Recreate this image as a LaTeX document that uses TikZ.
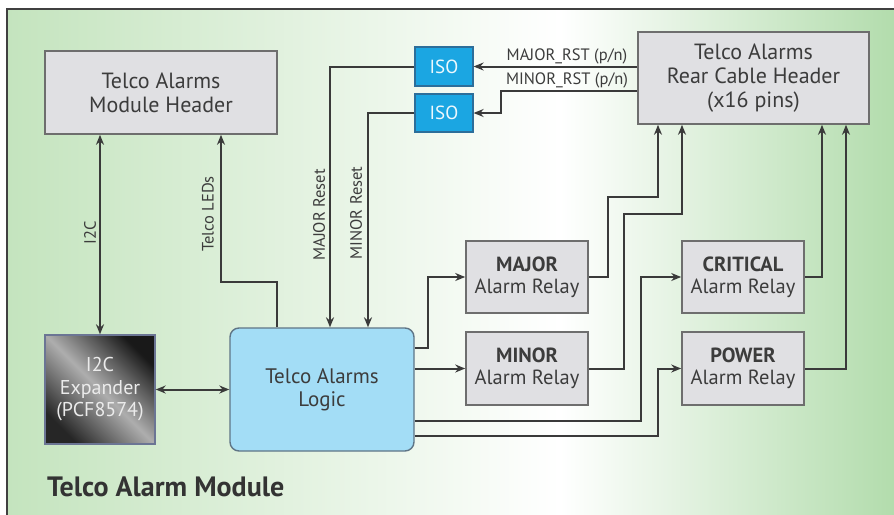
\documentclass[tikz,border=0pt]{standalone}
\usepackage{fontspec}
\setmainfont{PT Sans}
\usetikzlibrary{arrows.meta,calc}
\definecolor{bggreen}{HTML}{C4E4BE}
\definecolor{bggreenR}{HTML}{B2DCAC}
\definecolor{boxfill}{HTML}{E0E0E3}
\definecolor{boxline}{HTML}{6E6E6E}
\definecolor{wire}{HTML}{3A3A3A}
\definecolor{txt}{HTML}{3C3C3C}
\definecolor{isofill}{HTML}{1BA6E2}
\definecolor{isoline}{HTML}{2C6E9A}
\definecolor{logicfill}{HTML}{A3DDF6}
\definecolor{logicline}{HTML}{5F7586}
\definecolor{expline}{HTML}{6B7594}
\tikzset{
  graybox/.style={draw=boxline, fill=boxfill, line width=1.6pt, inner sep=0pt, align=center, text=txt, font=\fontsize{20.5}{22}\selectfont},
  isobox/.style={draw=isoline, fill=isofill, line width=1.2pt, inner sep=0pt, text=white!92!isofill, font=\fontsize{19}{21}\selectfont},
  wirestyle/.style={draw=wire, line width=2pt, -{Stealth[length=10pt,width=8pt]}},
  sig/.style={text=txt, font=\fontsize{16.5}{18}\selectfont, inner sep=0pt},
}
\begin{document}
\begin{tikzpicture}[x=1pt,y=-1pt]
\useasboundingbox (0,0) rectangle (894,514);
% background
\fill[white] (0,0) rectangle (894,514);
\shade[left color=bggreen, right color=white] (7,9) rectangle (560,516);
\shade[left color=white, right color=bggreenR] (560,9) rectangle (896,516);
\draw[line width=1.5pt, draw=black!75] (7,520) -- (7,9) -- (900,9);
% nodes
\node[graybox, minimum width=232pt, minimum height=83pt, font=\fontsize{22}{24}\selectfont] (mh) at (161,92.5) {Telco Alarms\\Module Header};
\node[graybox, minimum width=231pt, minimum height=92pt, font=\fontsize{22}{24}\selectfont] (rch) at (753.5,78) {Telco Alarms\\Rear Cable Header\\(x16 pins)};
\node[isobox, minimum width=58pt, minimum height=39pt] (iso1) at (444,66.5) {ISO};
\node[isobox, minimum width=58pt, minimum height=38pt] (iso2) at (444,113) {ISO};
\shade[left color=black!90, right color=black!85, middle color=black!32, shading angle=-45] (45,335) rectangle (155,444);
\node[draw=expline, line width=1.4pt, minimum width=110pt, minimum height=109pt, inner sep=0pt, align=center, text=black!8, font=\fontsize{20}{22.5}\selectfont] (exp) at (100,389.5) {I2C\\Expander\\(PCF8574)};
\node[draw=logicline, fill=logicfill, line width=1.4pt, rounded corners=9pt, minimum width=184pt, minimum height=123pt, inner sep=0pt, align=center, text=txt, font=\fontsize{21}{23}\selectfont] (logic) at (322,389.5) {Telco Alarms\\Logic};
\node[graybox, minimum width=122pt, minimum height=72pt] (major) at (527,277) {\textbf{MAJOR}\\Alarm Relay};
\node[graybox, minimum width=122pt, minimum height=73pt] (minor) at (527,368.5) {\textbf{MINOR}\\Alarm Relay};
\node[graybox, minimum width=122pt, minimum height=72pt] (crit) at (743,277) {\textbf{CRITICAL}\\Alarm Relay};
\node[graybox, minimum width=122pt, minimum height=73pt] (power) at (743,368.5) {\textbf{POWER}\\Alarm Relay};
% helper coordinates
\coordinate (ledA) at (277,282);
\coordinate (ledB) at (221,282);
\coordinate (mjr) at (330,0);
\coordinate (mnr) at (368,0);
\coordinate (mnA) at (501,91);
\coordinate (lm) at (428,348);
\coordinate (lc) at (641,421);
\coordinate (lp) at (658,436);
\coordinate (ma1) at (608,197);
\coordinate (ma2) at (658,197);
\coordinate (mi1) at (624,214);
\coordinate (mi2) at (682,214);
\coordinate (cr) at (822,0);
\coordinate (pw) at (846,0);
% connectors
\draw[wirestyle, {Stealth[length=10pt,width=8pt]}-{Stealth[length=10pt,width=8pt]}] (exp.north) -- (exp.north |- mh.south);
\draw[wirestyle, {Stealth[length=10pt,width=8pt]}-{Stealth[length=10pt,width=8pt]}] (exp.east) -- (logic.west);
\draw[wirestyle] (logic.north -| ledA) -- (ledA) -- (ledB) -- (mh.south -| ledB);
\draw[wirestyle] (iso1.west) -| (logic.north -| mjr);
\draw[wirestyle] (iso2.west) -| (logic.north -| mnr);
\draw[wirestyle] (rch.west |- iso1.east) -- (iso1.east);
\draw[wirestyle] (rch.west |- mnA) -- (mnA) |- (iso2.east);
\draw[wirestyle] (logic.east |- lm) -- (lm) |- (major.west);
\draw[wirestyle] (logic.east |- minor.west) -- (minor.west);
\draw[wirestyle] (logic.east |- lc) -- (lc) |- (crit.west);
\draw[wirestyle] (logic.east |- lp) -- (lp) |- (power.west);
\draw[wirestyle] (major.east) -| (ma1) -- (ma2) -- (rch.south -| ma2);
\draw[wirestyle] (minor.east) -| (mi1) -- (mi2) -- (rch.south -| mi2);
\draw[wirestyle] (crit.east) -| (rch.south -| cr);
\draw[wirestyle] (power.east) -| (rch.south -| pw);
% labels
\node[sig] (lmaj) at (567,56) {MAJOR\_RST (p/n)};
\node[sig] (lmin) at (567,80) {MINOR\_RST (p/n)};
\node[sig, rotate=90] (li2c) at (90,233) {I2C};
\node[sig, rotate=90] (lled) at (208,214) {Telco LEDs};
\node[sig, rotate=90] (lmr) at (319,215) {MAJOR Reset};
\node[sig, rotate=90] (lnr) at (356,213) {MINOR Reset};
\node[anchor=west, text=black!80, font=\bfseries\fontsize{28}{30}\selectfont, inner sep=0pt] (title) at (47,487) {Telco Alarm Module};
\end{tikzpicture}
\end{document}
